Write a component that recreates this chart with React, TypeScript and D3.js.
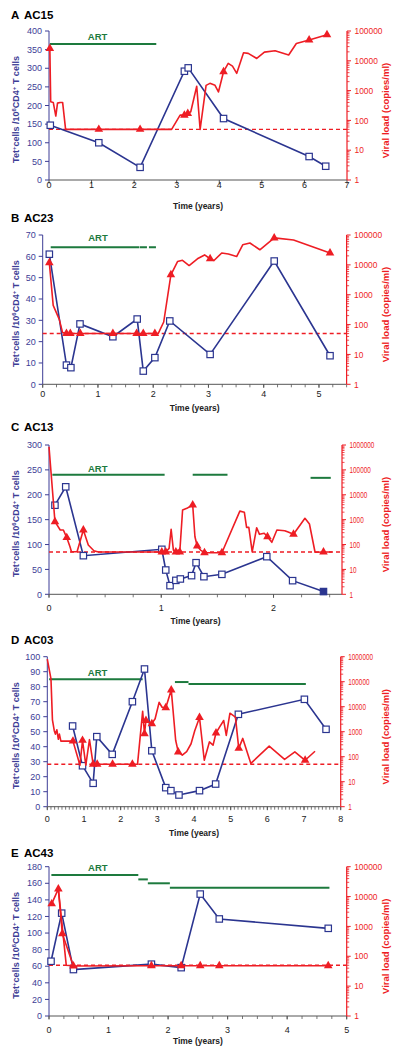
import React from "react";
import * as d3 from "d3";

type P = [number, number];
type V = [number, number, number];
type Seg = [number, number, number, number];

// ---------- Panel A: AC15 ----------
const tetA: P[] = [[0.03,147],[1.17,100],[2.14,34],[3.18,292],[3.27,301],[4.1,165],[6.11,63],[6.5,37]];
const vlA: V[] = [[0.02,26000,1],[0.04,420,0],[0.1,400,0],[0.16,140,0],[0.2,380,0],[0.26,400,0],[0.32,400,0],[0.39,50,0],[1.17,50,1],[2.14,50,1],[2.88,50,0],[3.08,150,0],[3.18,150,1],[3.26,170,1],[3.33,195,0],[3.47,1400,0],[3.55,50,0],[3.69,1500,0],[3.78,1750,0],[3.9,1500,0],[3.98,900,0],[4.1,4300,1],[4.21,8200,0],[4.31,6600,0],[4.41,3800,0],[4.57,18700,0],[4.68,17800,0],[4.88,12000,0],[5.06,19500,0],[5.31,21800,0],[5.63,15700,0],[5.81,38000,0],[6.11,50000,1],[6.53,75000,1]];
const artA: Seg[] = [[0.02,2.52,365,0]];
const artLabelA: P = [1.14,385];

// ---------- Panel B: AC23 ----------
const tetB: P[] = [[0.12,61],[0.43,9],[0.51,7.8],[0.675,28.3],[1.27,22.3],[1.71,30.6],[1.82,6.2],[2.03,12.5],[2.3,29.7],[3.03,14],[4.19,57.8],[5.2,13.4]];
const vlB: V[] = [[0.12,11700,1],[0.19,440,0],[0.3,150,0],[0.36,54,0],[0.43,50,1],[0.5,50,1],[0.68,50,1],[1.27,50,1],[1.7,50,1],[1.82,50,1],[2.03,50,1],[2.09,50,0],[2.19,122,0],[2.32,4650,1],[2.44,12900,0],[2.53,14200,0],[2.65,9500,0],[2.8,16000,0],[2.93,21500,0],[3.03,16000,1],[3.1,14000,0],[3.24,25000,0],[3.36,23000,0],[3.51,19000,0],[3.62,47000,0],[3.75,54000,0],[3.93,32000,0],[4.19,80000,1],[4.54,68000,0],[5.2,25000,1]];
const artB: Seg[] = [[0.145,1.75,64.2,0],[1.76,2.05,64.2,1]];
const artLabelB: P = [1.0,68.9];

// ---------- Panel C: AC13 ----------
const tetC: P[] = [[0.053,179],[0.149,216],[0.306,77.6],[1.005,90.4],[1.04,48.8],[1.078,17.4],[1.13,28],[1.17,30.8],[1.27,37.5],[1.31,63.5],[1.38,35.4],[1.54,40.1],[1.94,75.6],[2.17,27.4],[2.445,5.5]];
const vlC: V[] = [[0,850000,0],[0.053,830,1],[0.1,385,0],[0.128,385,0],[0.158,190,1],[0.187,82,0],[0.2,51,0],[0.25,51,0],[0.306,385,1],[0.35,96,0],[0.4,56,0],[0.44,50,0],[1.005,50,1],[1.04,50,1],[1.07,70,0],[1.088,410,0],[1.108,60,0],[1.13,50,1],[1.15,60,0],[1.165,50,1],[1.19,2450,0],[1.228,2850,0],[1.263,3550,0],[1.28,3900,1],[1.3,205,0],[1.32,87,1],[1.35,60,0],[1.385,47,1],[1.54,47,1],[1.70,2200,0],[1.74,2000,0],[1.76,490,0],[1.78,490,0],[1.81,51,0],[1.85,475,0],[1.875,257,0],[1.917,283,0],[1.946,205,1],[1.985,123,0],[2.03,385,0],[2.1,360,0],[2.13,316,0],[2.178,257,1],[2.28,1130,0],[2.32,670,0],[2.37,49,0],[2.445,50,1],[2.52,50,0]];
const artC: Seg[] = [[0.03,1.03,240,0],[1.28,1.59,240,0],[2.33,2.51,234,0]];
const artLabelC: P = [0.434,253];

// ---------- Panel D: AC03 ----------
const tetD: P[] = [[0.69,53.8],[0.96,27.3],[1.25,15.6],[1.35,46.7],[1.77,34.9],[2.32,70],[2.65,91.8],[2.85,37.3],[3.23,12.7],[3.37,10.7],[3.59,7.8],[4.15,10.7],[4.59,15.1],[5.21,61.6],[7.01,71.6],[7.6,51.6]];
const vlD: V[] = [[0,800000,0],[0.1,130000,0],[0.14,3000,0],[0.19,1100,0],[0.22,800,0],[0.26,1200,0],[0.3,500,0],[0.33,800,0],[0.37,420,0],[0.7,420,1],[0.89,46,0],[0.96,450,1],[1.05,46,0],[1.15,480,0],[1.25,50,1],[1.36,50,1],[1.78,50,1],[2.32,50,1],[2.46,50,0],[2.6,6500,0],[2.65,830,1],[2.69,2800,1],[2.74,2600,0],[2.85,2100,1],[2.94,3300,0],[3.05,15000,0],[3.13,9500,0],[3.23,9100,1],[3.38,47000,1],[3.5,455,0],[3.57,155,1],[3.68,115,0],[3.8,160,0],[3.92,330,0],[4.02,1100,0],[4.15,3700,1],[4.28,72,0],[4.42,390,0],[4.52,290,0],[4.6,890,1],[4.7,1550,0],[4.81,2800,0],[4.88,710,0],[4.98,5500,0],[5.13,3800,0],[5.22,215,1],[5.33,540,0],[5.55,54,0],[6.05,265,0],[6.47,78,0],[6.75,155,0],[7.03,72,1],[7.3,165,0]];
const artD: Seg[] = [[0.05,2.6,84.9,0],[3.48,3.85,83.1,0],[3.85,7.05,81.8,0]];
const artLabelD: P = [1.37,89.6];

// ---------- Panel E: AC43 ----------
const tetE: P[] = [[0.034,66],[0.213,124],[0.41,56],[1.72,62.5],[2.22,58.3],[2.54,147],[2.86,117],[4.69,105.7]];
const vlE: V[] = [[0.045,5700,1],[0.157,18000,1],[0.224,570,1],[0.41,47,1],[1.72,48,1],[2.22,48,1],[2.54,48,1],[2.86,48,1],[4.69,48,1]];
const vlEBranch: V[] = [[0.157,18000,0],[0.29,50,0],[0.41,48,0]];
const artE: Seg[] = [[0.04,1.5,170,0],[1.5,1.66,164.7,0],[1.66,2.03,160,0],[2.03,4.71,154.7,0]];
const artLabelE: P = [0.82,178.8];

const detectionLimit = 50;

const BLUE = "#2b3590";
const BLUE_TXT = "#3d3d96";
const RED = "#ee1d24";
const GREEN = "#1d7a3e";
const FONT = "Arial, 'Liberation Sans', Helvetica, sans-serif";

interface Cfg {
  letter: string; name: string;
  left: number; right: number; top: number; bottom: number;
  xMax: number; xMinor: number; yMax: number; yStep: number; vlMax: number;
  titleY: number; tickLabelY: number; xTitleY: number; rightCharW: number;
  tet: P[]; vl: V[]; vlBranch: V[]; art: Seg[]; artLabel: P; filledLast: boolean;
}

const panels: Cfg[] = [
  { letter: "A", name: "AC15", left: 49, right: 347, top: 31, bottom: 180, xMax: 7, xMinor: 0, yMax: 400, yStep: 50, vlMax: 1e5,
    titleY: 15, tickLabelY: 185, xTitleY: 206, rightCharW: 4.67, tet: tetA, vl: vlA, vlBranch: [], art: artA, artLabel: artLabelA, filledLast: false },
  { letter: "B", name: "AC23", left: 42.7, right: 346.6, top: 235, bottom: 384.3, xMax: 5.5, xMinor: 0.25, yMax: 70, yStep: 10, vlMax: 1e5,
    titleY: 218, tickLabelY: 393.5, xTitleY: 408, rightCharW: 4.67, tet: tetB, vl: vlB, vlBranch: [], art: artB, artLabel: artLabelB, filledLast: false },
  { letter: "C", name: "AC13", left: 49, right: 342, top: 445, bottom: 594.3, xMax: 2.61, xMinor: 0.25, yMax: 300, yStep: 50, vlMax: 1e6,
    titleY: 427, tickLabelY: 608, xTitleY: 621, rightCharW: 3.55, tet: tetC, vl: vlC, vlBranch: [], art: artC, artLabel: artLabelC, filledLast: true },
  { letter: "D", name: "AC03", left: 47.3, right: 340.7, top: 656.7, bottom: 806.7, xMax: 8, xMinor: 0.1, yMax: 100, yStep: 10, vlMax: 1e6,
    titleY: 640, tickLabelY: 819, xTitleY: 833, rightCharW: 3.55, tet: tetD, vl: vlD, vlBranch: [], art: artD, artLabel: artLabelD, filledLast: false },
  { letter: "E", name: "AC43", left: 49, right: 346.7, top: 866.7, bottom: 1016, xMax: 5, xMinor: 0.25, yMax: 180, yStep: 20, vlMax: 1e5,
    titleY: 853, tickLabelY: 1030, xTitleY: 1041, rightCharW: 4.67, tet: tetE, vl: vlE, vlBranch: vlEBranch, art: artE, artLabel: artLabelE, filledLast: false },
];

function Panel({ c }: { c: Cfg }) {
  const x = d3.scaleLinear().domain([0, c.xMax]).range([c.left, c.right]);
  const yL = d3.scaleLinear().domain([0, c.yMax]).range([c.bottom, c.top]);
  const yR = d3.scaleLog().domain([1, c.vlMax]).range([c.bottom, c.top]);
  const tetPath = d3.line<P>().x(d => x(d[0])).y(d => yL(d[1]))(c.tet) || "";
  const vlGen = d3.line<V>().x(d => x(d[0])).y(d => yR(d[1]));
  const tri = d3.symbol().type(d3.symbolTriangle).size(32)() || "";
  const majorX = d3.range(0, Math.floor(c.xMax + 1e-9) + 1);
  const minorX = c.xMinor ? d3.range(0, c.xMax + 1e-9, c.xMinor) : [];
  const yTicks = d3.range(0, c.yMax + 1e-9, c.yStep);
  const decades = Math.round(Math.log10(c.vlMax));
  const rMajor = d3.range(0, decades + 1).map(d => Math.pow(10, d));
  const rMinor: number[] = [];
  for (let d = 0; d < decades; d++) for (let k = 2; k <= 9; k++) rMinor.push(k * Math.pow(10, d));
  const midY = (c.top + c.bottom) / 2;
  const midX = (c.left + c.right) / 2;
  const sq = 6.4;

  return (
    <g fontFamily={FONT}>
      <text x={11} y={c.titleY + 4} fontSize={11.5} fontWeight="bold" fill="#000">{c.letter}</text>
      <text x={24} y={c.titleY + 4} fontSize={11.5} fontWeight="bold" fill="#000">{c.name}</text>

      {/* left axis */}
      <line x1={c.left} x2={c.left} y1={c.top} y2={c.bottom} stroke={BLUE_TXT} strokeWidth={1} />
      {yTicks.map(v => (
        <g key={"yl" + v}>
          <line x1={c.left - 4} x2={c.left} y1={yL(v)} y2={yL(v)} stroke={BLUE_TXT} strokeWidth={1} />
          <text x={c.left - 7} y={yL(v) + 3.2} fontSize={9} textAnchor="end" fill={BLUE_TXT}>{v}</text>
        </g>
      ))}
      <text transform={`translate(18.5,${midY + 4}) rotate(-90)`} textAnchor="middle" fontSize={9} fontWeight="bold" fill={BLUE_TXT}>
        Tet<tspan dy={-3} fontSize={6}>+</tspan><tspan dy={3}>cells /10</tspan><tspan dy={-3} fontSize={6}>6</tspan><tspan dy={3}>CD4</tspan><tspan dy={-3} fontSize={6}>+</tspan><tspan dy={3}> T cells</tspan>
      </text>

      {/* bottom axis */}
      <line x1={c.left} x2={c.right} y1={c.bottom} y2={c.bottom} stroke="#555" strokeWidth={1} />
      {minorX.map((t, i) => (
        <line key={"mx" + i} x1={x(t)} x2={x(t)} y1={c.bottom} y2={c.bottom + 3} stroke="#555" strokeWidth={0.8} />
      ))}
      {majorX.map(t => (
        <g key={"x" + t}>
          <line x1={x(t)} x2={x(t)} y1={c.bottom} y2={c.bottom + 3.5} stroke="#555" strokeWidth={1} />
          <text x={x(t)} y={c.tickLabelY + 3.2} fontSize={9} textAnchor="middle" fill="#222">{t}</text>
        </g>
      ))}
      <text x={midX} y={c.xTitleY + 3} fontSize={8.5} fontWeight="bold" textAnchor="middle" fill="#222">Time (years)</text>

      {/* right axis */}
      <line x1={c.right} x2={c.right} y1={c.top} y2={c.bottom} stroke={RED} strokeWidth={1.2} />
      {rMinor.map(v => (
        <line key={"rm" + v} x1={c.right} x2={c.right + 2.5} y1={yR(v)} y2={yR(v)} stroke={RED} strokeWidth={0.8} />
      ))}
      {rMajor.map(v => {
        const s = String(v);
        return (
          <g key={"rM" + v}>
            <line x1={c.right} x2={c.right + 4} y1={yR(v)} y2={yR(v)} stroke={RED} strokeWidth={1} />
            <text x={c.right + 7.5} y={yR(v) + 3.2} fontSize={8.5} fill={RED} textLength={s.length * c.rightCharW} lengthAdjust="spacingAndGlyphs">{s}</text>
          </g>
        );
      })}
      <text transform={`translate(388.5,${midY + 5}) rotate(-90)`} textAnchor="middle" fontSize={9.5} fontWeight="bold" fill={RED}>
        Viral load (copies/ml)
      </text>

      {/* ART bars */}
      {c.art.map((s, i) => (
        <line key={"art" + i} x1={x(s[0])} x2={x(s[1])} y1={yL(s[2])} y2={yL(s[2])} stroke={GREEN} strokeWidth={2}
          strokeDasharray={s[3] ? "7,2" : undefined} />
      ))}
      <text x={x(c.artLabel[0])} y={yL(c.artLabel[1]) + 3.3} fontSize={9.5} fontWeight="bold" textAnchor="middle" fill={GREEN}>ART</text>

      {/* detection limit */}
      <line x1={c.left} x2={c.right} y1={yR(detectionLimit)} y2={yR(detectionLimit)} stroke={RED} strokeWidth={1.4} strokeDasharray="4,3" />

      {/* tet line */}
      <path d={tetPath} fill="none" stroke={BLUE} strokeWidth={1.6} />
      {c.tet.map((d, i) => (
        <rect key={"sq" + i} x={x(d[0]) - sq / 2} y={yL(d[1]) - sq / 2} width={sq} height={sq}
          fill={c.filledLast && i === c.tet.length - 1 ? BLUE : "#fff"} stroke={BLUE} strokeWidth={1.2} />
      ))}

      {/* viral load */}
      {c.vlBranch.length > 0 && <path d={vlGen(c.vlBranch) || ""} fill="none" stroke={RED} strokeWidth={1.6} />}
      <path d={vlGen(c.vl) || ""} fill="none" stroke={RED} strokeWidth={1.6} strokeLinejoin="round" />
      {c.vl.filter(d => d[2] === 1).map((d, i) => (
        <path key={"tr" + i} d={tri} transform={`translate(${x(d[0])},${yR(d[1])})`} fill={RED} />
      ))}
    </g>
  );
}

export default function App() {
  return (
    <svg width={400} height={1057} viewBox="0 0 400 1057" style={{ position: "absolute", left: 0, top: 0, display: "block", background: "#fff" }}>
      <rect x={0} y={0} width={400} height={1057} fill="#fff" />
      {panels.map(c => <Panel key={c.letter} c={c} />)}
    </svg>
  );
}
